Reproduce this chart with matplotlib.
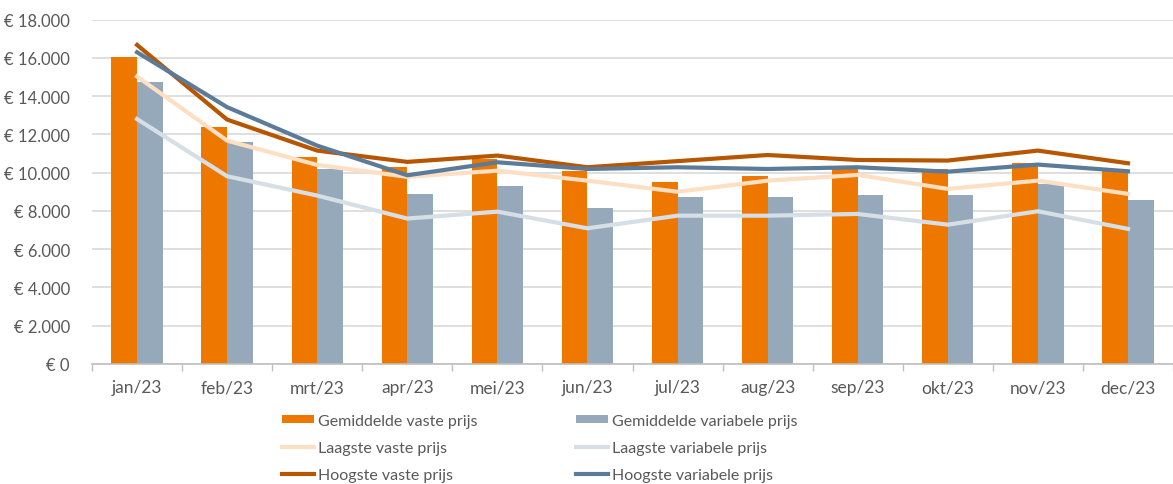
import matplotlib.pyplot as plt
import numpy as np
from matplotlib.ticker import FuncFormatter, MultipleLocator

plt.rcParams['font.family'] = ['Lato', 'DejaVu Sans']

months = ['jan/23', 'feb/23', 'mrt/23', 'apr/23', 'mei/23', 'jun/23',
          'jul/23', 'aug/23', 'sep/23', 'okt/23', 'nov/23', 'dec/23']

# gemiddelde prijzen (staven)
gem_vast = [16030, 12370, 10840, 10280, 10700, 10100, 9530, 9840, 10300, 10200, 10500, 10100]
gem_variabel = [14720, 11590, 10200, 8890, 9290, 8170, 8730, 8730, 8830, 8830, 9400, 8590]

# laagste en hoogste prijzen (lijnen)
laag_vast = [15020, 11670, 10400, 9780, 10100, 9580, 9000, 9580, 9880, 9150, 9580, 8890]
laag_variabel = [12800, 9810, 8800, 7600, 7960, 7090, 7750, 7750, 7840, 7280, 7980, 7060]
hoog_vast = [16670, 12770, 11150, 10560, 10890, 10280, 10600, 10920, 10660, 10630, 11150, 10490]
hoog_variabel = [16290, 13420, 11410, 9860, 10540, 10190, 10280, 10190, 10280, 10050, 10420, 10070]

c_orange = '#EE7700'
c_grey = '#96A9BA'
c_peach = '#FDDFC3'
c_lightgrey = '#D6DFE6'
c_darkorange = '#B65600'
c_darkblue = '#5B7B98'
c_text = '#595959'

fig = plt.figure(figsize=(11.73, 4.85), dpi=100)
ax = fig.add_axes([92 / 1173, 120 / 485, 1081 / 1173, 344.5 / 485])

x = np.arange(len(months))
w = 0.285
b1 = ax.bar(x - w / 2, gem_vast, width=w, color=c_orange, label='Gemiddelde vaste prijs', zorder=2)
b2 = ax.bar(x + w / 2, gem_variabel, width=w, color=c_grey, label='Gemiddelde variabele prijs', zorder=2)

lw = 3.0
l1, = ax.plot(x, laag_vast, color=c_peach, lw=lw, label='Laagste vaste prijs', zorder=3)
l2, = ax.plot(x, laag_variabel, color=c_lightgrey, lw=lw, label='Laagste variabele prijs', zorder=3)
l3, = ax.plot(x, hoog_vast, color=c_darkorange, lw=lw, label='Hoogste vaste prijs', zorder=3)
l4, = ax.plot(x, hoog_variabel, color=c_darkblue, lw=lw, label='Hoogste variabele prijs', zorder=3)

ax.set_ylim(0, 18000)
ax.set_xlim(-0.5, -0.5 + 1081 / 91.2)
ax.yaxis.set_major_locator(MultipleLocator(2000))
ax.yaxis.set_major_formatter(FuncFormatter(lambda v, p: '€ ' + f'{v:,.0f}'.replace(',', '.')))
ax.grid(axis='y', color='#D9D9D9', lw=1.2, zorder=0)
ax.set_axisbelow(True)

ax.set_xticks(x)
ax.set_xticklabels(months)
ax.set_xticks(np.arange(-0.5, 12, 1), minor=True)
ax.tick_params(axis='x', which='major', length=0, pad=11, labelsize=12.5, labelcolor=c_text)
ax.tick_params(axis='x', which='minor', length=5, color='#BFBFBF', width=1)
ax.tick_params(axis='y', length=0, pad=16, labelsize=12, labelcolor=c_text)

for s in ['top', 'right', 'left']:
    ax.spines[s].set_visible(False)
ax.spines['bottom'].set_color('#BFBFBF')
ax.spines['bottom'].set_linewidth(1.2)

handles = [b1, l1, l3, b2, l2, l4]
labels = [h.get_label() for h in handles]
leg = fig.legend(handles, labels, ncol=2, loc='upper left',
                 bbox_to_anchor=(282 / 1173, 1 - 415 / 485), frameon=False,
                 fontsize=11.5, handlelength=2.0, handleheight=0.42, handletextpad=0.25,
                 labelspacing=0.82, columnspacing=6.2, borderpad=0, borderaxespad=0)
for t in leg.get_texts():
    t.set_color(c_text)

plt.savefig('out.png', dpi=100)
